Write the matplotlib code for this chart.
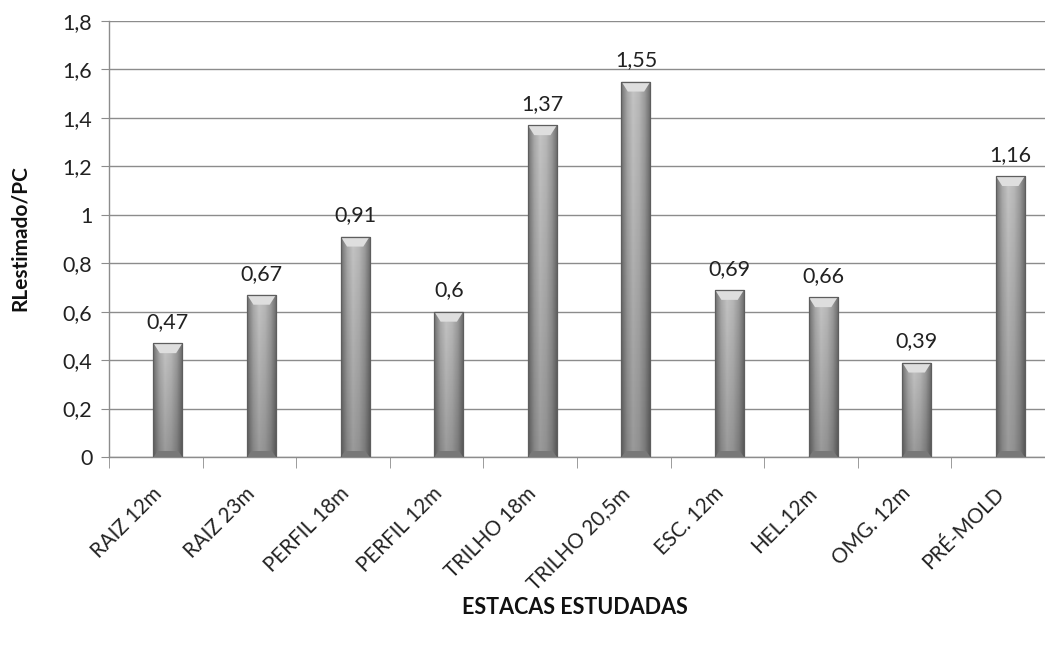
import numpy as np
import matplotlib
matplotlib.use("Agg")
import matplotlib.pyplot as plt
from matplotlib.patches import Polygon
from matplotlib.colors import LinearSegmentedColormap

plt.rcParams['font.family'] = ['Lato', 'DejaVu Sans']

# data
categories = ["RAIZ 12m", "RAIZ 23m", "PERFIL 18m", "PERFIL 12m", "TRILHO 18m",
              "TRILHO 20,5m", "ESC. 12m", "HEL.12m", "OMG. 12m", "PRÉ-MOLD"]
values = [0.47, 0.67, 0.91, 0.60, 1.37, 1.55, 0.69, 0.66, 0.39, 1.16]
value_labels = ["0,47", "0,67", "0,91", "0,6", "1,37", "1,55", "0,69", "0,66", "0,39", "1,16"]
yticks = [0, 0.2, 0.4, 0.6, 0.8, 1.0, 1.2, 1.4, 1.6, 1.8]
ytick_labels = ["0", "0,2", "0,4", "0,6", "0,8", "1", "1,2", "1,4", "1,6", "1,8"]

fig = plt.figure(figsize=(10.45, 6.49), dpi=100)
ax = fig.add_axes([109 / 1045, 1 - 457 / 649, 1 - 109 / 1045, (457 - 21) / 649])

x = np.arange(len(categories))
shift = 0.13
width = 0.31
ax.set_xlim(-0.5, -0.5 + (1045 - 109) / 94.3)
ax.set_ylim(0, 1.8)

# horizontal gradient for the cylinder look
cmap = LinearSegmentedColormap.from_list(
    "bar", ["#727272", "#a8a8a8", "#c4c4c4", "#b9b9b9", "#9c9c9c", "#6a6a6a"])
grad_h = np.tile(np.linspace(0, 1, 64), (64, 1))

bars = ax.bar(x + shift, values, width=width, color="none", edgecolor="#5e5e5e",
              linewidth=0.9, zorder=3)

px_per_unit = (457 - 21) / 1.8
bevel = 10 / px_per_unit
for b, v in zip(bars, values):
    x0 = b.get_x()
    w = b.get_width()
    x1 = x0 + w
    img = ax.imshow(grad_h, cmap=cmap, extent=(x0, x1, 0, v), aspect="auto",
                    origin="lower", zorder=2, interpolation="bilinear")
    img.set_clip_path(b)
    # slight darkening toward bottom
    shade = np.zeros((64, 2, 4))
    shade[..., 3] = np.linspace(0.22, 0.0, 64)[:, None]
    ax.imshow(shade, extent=(x0, x1, 0, v), aspect="auto", origin="lower",
              zorder=2.1, interpolation="bilinear").set_clip_path(b)
    # top bevel
    ax.add_patch(Polygon([(x0, v), (x1, v), (x1 - 0.22 * w, v - bevel),
                          (x0 + 0.22 * w, v - bevel)],
                         closed=True, facecolor="#dedede", edgecolor="none", zorder=2.5))
    # bottom bevel
    ax.add_patch(Polygon([(x0, 0), (x1, 0), (x1 - 0.15 * w, bevel * 0.6),
                          (x0 + 0.15 * w, bevel * 0.6)],
                         closed=True, facecolor="#787878", edgecolor="none", zorder=2.5))

for xi, v, lab in zip(x, values, value_labels):
    ax.annotate(lab, (xi + shift, v), xytext=(0, 8), textcoords="offset points",
                ha="center", va="bottom", fontsize=15.5, color="#222222")

# axes styling
ax.set_yticks(yticks)
ax.set_yticklabels(ytick_labels, fontsize=15.5, color="#222222")
ax.yaxis.grid(True, color="#8c8c8c", linewidth=1)
ax.set_axisbelow(True)
ax.tick_params(axis="y", length=6, color="#8c8c8c", direction="out", pad=6)

ax.set_xticks(x + 0.03)
ax.set_xticklabels(categories, rotation=45, ha="right", va="center",
                   rotation_mode="anchor", fontsize=14.8, color="#222222")
ax.tick_params(axis="x", which="major", length=0, pad=24)
ax.set_xticks(np.arange(-0.5, 10, 1.0), minor=True)
ax.tick_params(axis="x", which="minor", length=8, color="#8c8c8c", direction="out")

for s in ["top", "right"]:
    ax.spines[s].set_visible(False)
for s in ["left", "bottom"]:
    ax.spines[s].set_color("#8c8c8c")
    ax.spines[s].set_linewidth(1)

fig.text(20 / 1045, 1 - 238 / 649, "RLestimado/PC", rotation=90, ha="center",
         va="center", fontsize=15, fontweight="bold", color="#111111")
fig.text(575 / 1045, 1 - 607 / 649, "ESTACAS ESTUDADAS", ha="center", va="center",
         fontsize=15.5, fontweight="bold", color="#111111")

fig.savefig("out.png", dpi=100)
